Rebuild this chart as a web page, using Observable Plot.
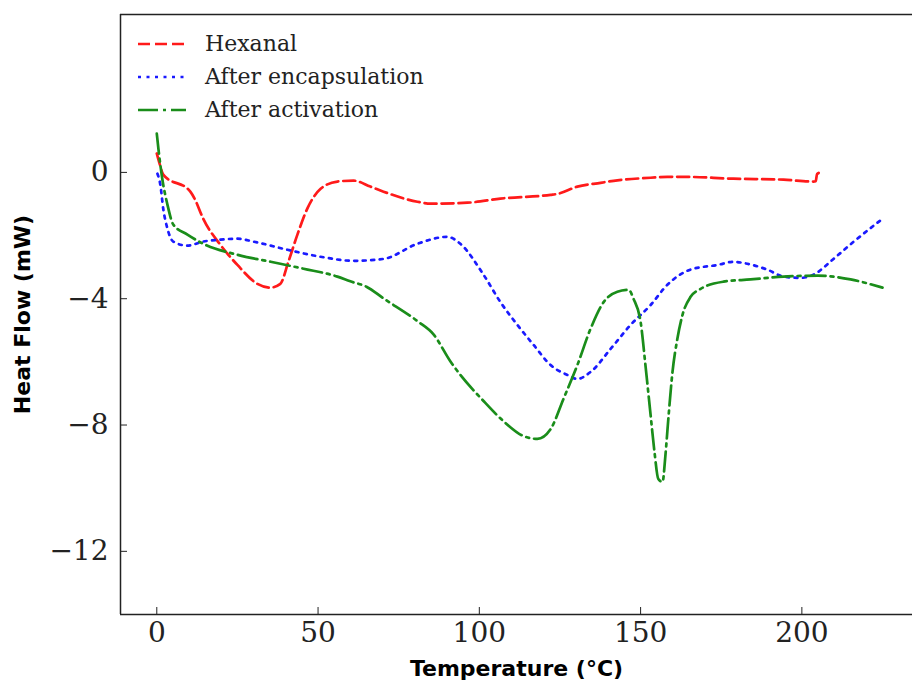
<!DOCTYPE html>
<html>
<head>
<meta charset="utf-8">
<script src="https://cdn.jsdelivr.net/npm/d3@7"></script>
<script src="https://cdn.jsdelivr.net/npm/@observablehq/plot@0.6"></script>
<style>
  html, body { margin: 0; padding: 0; background: #fff; }
  #wrap { position: relative; width: 912px; height: 680px; overflow: hidden; }
  #legend { position: absolute; left: 138px; top: 27px; font-family: "DejaVu Serif", serif; font-size: 22px; color: #222; }
  .row { display: flex; align-items: center; height: 33px; }
  .row svg { width: 48px; height: 10px; margin-right: 19px; }
</style>
</head>
<body>
<div id="wrap"><div id="legend"></div></div>
<script>
const seriesNames = ["Hexanal", "After encapsulation", "After activation"];
const seriesColors = ["#ff1a1a", "#1a1aff", "#1a8d1a"];
const seriesDash = ["12,5", "3,5.5", "20,5,3,5"];

const hexT = [0, 0.8, 2.0, 10.4, 11.9, 14.4, 19.7, 25.0, 31.2, 35.2, 38.3, 40.8, 43.6, 46.7, 50.8, 56.0, 61.0, 66.2, 70.3, 80.8, 84.9, 96.3, 106.5, 122.1, 124.2, 130.4, 137.6, 142.8, 153.1, 158.3, 163.3, 178.8, 194.3, 203.6, 204.3, 204.7, 206.4];
const hexH = [0.6, 0.3, -0.07, -0.61, -0.87, -1.47, -2.29, -2.93, -3.53, -3.65, -3.53, -2.83, -1.97, -1.14, -0.52, -0.29, -0.26, -0.45, -0.61, -0.93, -0.99, -0.96, -0.83, -0.71, -0.68, -0.45, -0.33, -0.25, -0.17, -0.14, -0.14, -0.20, -0.23, -0.29, -0.28, -0.05, 0.02];

const encT = [0.2, 1.1, 2.0, 3.3, 5.1, 9.5, 14.4, 19.7, 25.0, 29.9, 40.5, 50.7, 61.0, 70.3, 80.8, 90.1, 94.1, 101.3, 106.5, 111.8, 116.8, 122.1, 127.4, 130.4, 134.5, 140.7, 146.9, 153.1, 158.3, 165.4, 173.9, 178.8, 181.9, 189.3, 194.3, 199.6, 203.6, 209.8, 216.0, 225.0];
const encH = [-0.04, -0.39, -1.15, -1.78, -2.19, -2.32, -2.19, -2.13, -2.10, -2.19, -2.45, -2.67, -2.80, -2.74, -2.26, -2.04, -2.26, -3.24, -4.10, -4.83, -5.46, -6.10, -6.42, -6.54, -6.32, -5.59, -4.83, -4.2, -3.56, -3.08, -2.93, -2.83, -2.87, -3.08, -3.30, -3.34, -3.24, -2.74, -2.20, -1.47];

const actT = [0, 0.5, 1.7, 3.3, 5.1, 9.5, 14.4, 25.0, 35.3, 45.5, 56.0, 60.0, 65.0, 70.3, 80.8, 85.8, 91.0, 93.2, 101.3, 107.5, 113.7, 118.0, 122.1, 126.1, 130.4, 134.5, 138.6, 142.8, 146.3, 147.8, 150.0, 151.5, 153.1, 154.3, 155.5, 156.8, 157.7, 158.7, 159.9, 161.4, 163.0, 165.5, 168.6, 175.7, 184.1, 194.3, 204.9, 215.1, 225.0];
const actH = [1.23, 0.75, -0.20, -1.02, -1.65, -1.97, -2.26, -2.61, -2.83, -3.05, -3.30, -3.45, -3.62, -3.99, -4.71, -5.13, -5.98, -6.29, -7.24, -7.88, -8.35, -8.44, -8.13, -7.17, -6.10, -4.95, -4.10, -3.78, -3.72, -4.00, -4.73, -6.10, -7.68, -8.85, -9.71, -9.80, -8.95, -7.68, -6.31, -5.27, -4.51, -3.94, -3.69, -3.46, -3.39, -3.30, -3.27, -3.39, -3.65];

const xTicks = [0, 50, 100, 150, 200];
const yTicks = [0, -4, -8, -12];
const xDomain = [-11.25, 234.3];
const yDomain = [-14, 5];
const xLabel = "Temperature (°C)";
const yLabel = "Heat Flow (mW)";

const toRows = (T, H) => T.map((t, i) => ({T: t, H: H[i]}));
const series = [toRows(hexT, hexH), toRows(encT, encH), toRows(actT, actH)];
const fmt = d => d < 0 ? "\u2212" + Math.abs(d) : String(d);

const lines = series.map((rows, i) => Plot.line(rows, {
  x: "T", y: "H", stroke: seriesColors[i], strokeWidth: 2.7,
  strokeDasharray: seriesDash[i], curve: "monotone-x", clip: true
}));

const chart = Plot.plot({
  width: 912, height: 680,
  marginTop: 14, marginBottom: 66, marginLeft: 120, marginRight: 0,
  style: {background: "transparent", color: "#222"},
  x: {domain: xDomain, label: null},
  y: {domain: yDomain, label: null},
  marks: [
    ...lines,
    Plot.axisX({ticks: xTicks, tickSize: -7, text: null, stroke: "#222", label: null}),
    Plot.axisX({ticks: xTicks, tickSize: 0, tickPadding: 8, tickFormat: fmt, fontSize: 28, fontFamily: "DejaVu Serif", fill: "#222", label: null}),
    Plot.axisY({ticks: yTicks, tickSize: -7, text: null, stroke: "#222", label: null}),
    Plot.axisY({ticks: yTicks, tickSize: 0, tickPadding: 12, tickFormat: fmt, fontSize: 28, fontFamily: "DejaVu Serif", fill: "#222", label: null}),
    Plot.ruleX([xDomain[0]], {stroke: "#222", strokeWidth: 1.5}),
    Plot.ruleY([yDomain[0], yDomain[1]], {stroke: "#222", strokeWidth: 1.5}),
    Plot.text([xLabel], {frameAnchor: "bottom", textAnchor: "middle", dy: 61, fontSize: 22, fontWeight: "bold", fontFamily: "DejaVu Sans", fill: "#000"}),
    Plot.text([yLabel], {frameAnchor: "left", textAnchor: "middle", rotate: -90, dx: -98, fontSize: 22, fontWeight: "bold", fontFamily: "DejaVu Sans", fill: "#000"})
  ]
});
document.getElementById("wrap").prepend(chart);
chart.style.position = "absolute"; chart.style.left = "0"; chart.style.top = "0";

const legend = document.getElementById("legend");
seriesNames.forEach((name, i) => {
  const row = document.createElement("div");
  row.className = "row";
  row.innerHTML = `<svg viewBox="0 0 48 10"><line x1="0" y1="5" x2="48" y2="5" stroke="${seriesColors[i]}" stroke-width="2.7" stroke-dasharray="${seriesDash[i]}"/></svg><span>${name}</span>`;
  legend.appendChild(row);
});
</script>
</body>
</html>
